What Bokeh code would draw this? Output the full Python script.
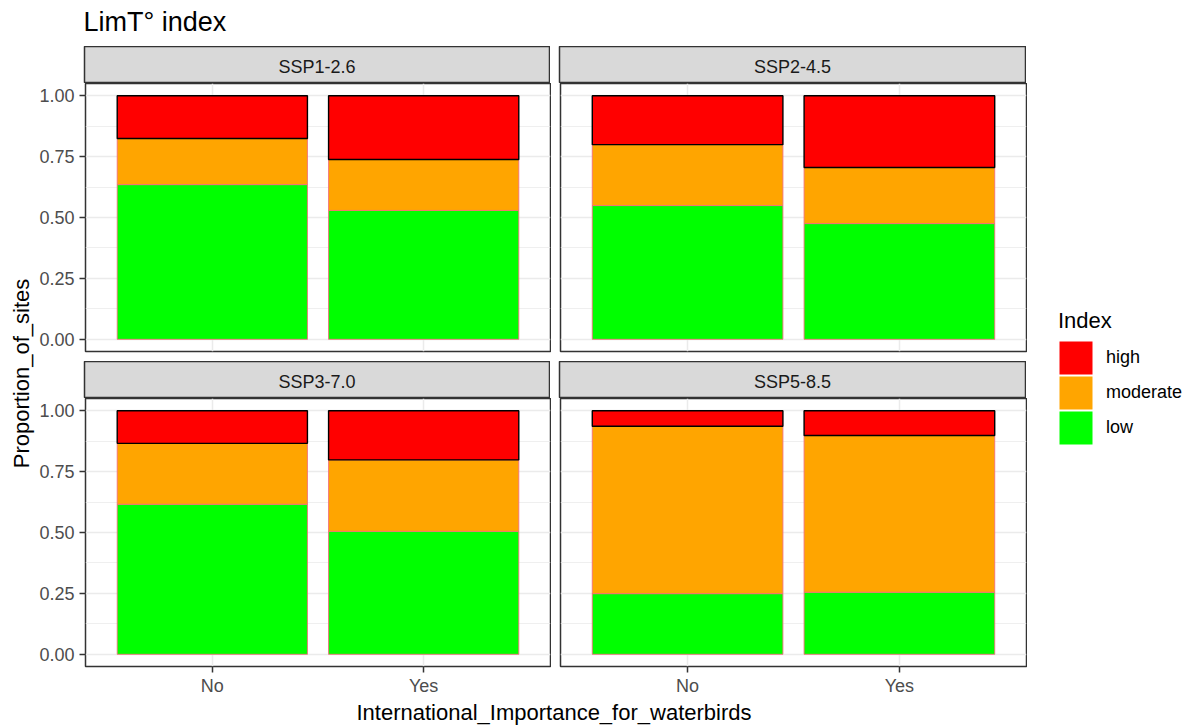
import math
from bokeh.plotting import figure
from bokeh.models import (ColumnDataSource, FactorRange, Range1d, FixedTicker,
                          Legend, LegendItem, NumeralTickFormatter)
from bokeh.layouts import row, column
from bokeh.embed import file_html
from bokeh.resources import INLINE
from bokeh.core.properties import value

# ---------------- data ----------------
chart_title = "LimT° index"
x_title = "International_Importance_for_waterbirds"
y_title = "Proportion_of_sites"
legend_title = "Index"

scenarios = ["SSP1-2.6", "SSP2-4.5", "SSP3-7.0", "SSP5-8.5"]
categories = ["No", "Yes"]
stack_levels = ["low", "moderate", "high"]      # bottom -> top
legend_levels = ["high", "moderate", "low"]     # legend order

# proportions per scenario (same order as `scenarios`)
low_no = [0.635, 0.549, 0.616, 0.249]
moderate_no = [0.189, 0.250, 0.250, 0.687]
high_no = [0.176, 0.201, 0.134, 0.064]
low_yes = [0.529, 0.475, 0.505, 0.255]
moderate_yes = [0.209, 0.230, 0.293, 0.643]
high_yes = [0.262, 0.295, 0.202, 0.102]

y_ticks = [0.0, 0.25, 0.5, 0.75, 1.0]
y_minor = [0.125, 0.375, 0.625, 0.875]

fill_colors = {"high": "#ff0000", "moderate": "#ffa500", "low": "#00ff00"}
line_colors = {"high": "#000000", "moderate": "#f0707a", "low": "#f0707a"}
line_widths = {"high": 1.4, "moderate": 0.9, "low": 0.9}

# ---------------- style ----------------
FONT = value("Liberation Sans")
FONT_NAME = "Liberation Sans"
FW = [465, 466]
FH = 268
SH = 37
LEFT_B = [48, 9]
BORDER = "#333333"
GRID = "#ebebeb"
TOTAL_H = 726


def deco_fig(w, h):
    f = figure(width=w, height=h, x_range=Range1d(0, w), y_range=Range1d(0, h),
               x_axis_location=None, y_axis_location=None,
               min_border=0, min_border_left=0, min_border_right=0,
               min_border_top=0, min_border_bottom=0,
               output_backend="svg", toolbar_location=None, tools="")
    f.grid.visible = False
    f.outline_line_color = None
    return f


def strip_fig(name, col):
    s = figure(frame_width=FW[col], frame_height=SH,
               x_range=Range1d(0, 1), y_range=Range1d(0, 1),
               x_axis_location=None, y_axis_location=None,
               min_border_left=LEFT_B[col], min_border_right=1,
               min_border_top=0, min_border_bottom=0,
               output_backend="svg", toolbar_location=None, tools="")
    s.grid.visible = False
    s.background_fill_color = "#d9d9d9"
    s.outline_line_color = BORDER
    s.outline_line_width = 1.5
    s.text(x=[0.5], y=[0.45], text=[name], text_align="center",
           text_baseline="middle", text_font=FONT, text_font_size="18px",
           text_color="#1a1a1a")
    return s


def panel_fig(i, col, bottom):
    src = ColumnDataSource(dict(
        cat=categories,
        low=[low_no[i], low_yes[i]],
        moderate=[moderate_no[i], moderate_yes[i]],
        high=[high_no[i], high_yes[i]],
    ))
    p = figure(x_range=FactorRange(factors=categories, range_padding=0.1,
                                   range_padding_units="absolute"),
               y_range=Range1d(-0.05, 1.05),
               frame_width=FW[col], frame_height=FH,
               min_border_left=LEFT_B[col], min_border_right=1,
               min_border_top=0, min_border_bottom=30 if bottom else 10,
               x_axis_location="below" if bottom else None,
               y_axis_location="left" if col == 0 else None,
               output_backend="svg", toolbar_location=None, tools="")
    p.vbar_stack(stack_levels, x="cat", width=0.9, source=src,
                 fill_color=[fill_colors[l] for l in stack_levels],
                 line_color=[line_colors[l] for l in stack_levels],
                 line_width=[line_widths[l] for l in stack_levels])
    p.outline_line_color = BORDER
    p.outline_line_width = 1.5
    p.background_fill_color = "white"

    p.ygrid.ticker = FixedTicker(ticks=y_ticks, minor_ticks=y_minor)
    p.ygrid.grid_line_color = GRID
    p.ygrid.grid_line_width = 1.5
    p.ygrid.minor_grid_line_color = GRID
    p.ygrid.minor_grid_line_width = 0.8
    p.xgrid.grid_line_color = GRID
    p.xgrid.grid_line_width = 1.5

    for ax in list(p.yaxis) + list(p.xaxis):
        ax.axis_line_color = None
        ax.major_tick_line_color = BORDER
        ax.major_tick_line_width = 1.5
        ax.major_tick_out = 6
        ax.major_tick_in = 0
        ax.minor_tick_line_color = None
        ax.major_label_text_font = FONT_NAME
        ax.major_label_text_font_size = "18px"
        ax.major_label_text_color = "#4d4d4d"
    if col == 0:
        p.yaxis.ticker = FixedTicker(ticks=y_ticks, minor_ticks=y_minor)
        p.yaxis.formatter = NumeralTickFormatter(format="0.00")
        p.yaxis.major_label_standoff = 5
    if bottom:
        p.xaxis.major_label_standoff = 3
    return p


cells = []
for i, name in enumerate(scenarios):
    col = i % 2
    bottom = i >= 2
    cells.append((strip_fig(name, col), panel_fig(i, col, bottom)))

# title
title_fig = deco_fig(990, 46)
title_fig.text(x=[47], y=[25], text=[chart_title], text_align="left",
               text_baseline="middle", text_font=FONT,
               text_font_size="27px", text_color="#000000")

# x title
xtitle_fig = deco_fig(990, 30)
xtitle_fig.text(x=[517.5], y=[16], text=[x_title], text_align="center",
                text_baseline="middle", text_font=FONT,
                text_font_size="22px", text_color="#000000")

# y title
ytitle_fig = deco_fig(36, TOTAL_H)
ytitle_fig.text(x=[21], y=[TOTAL_H - 373], text=[y_title], angle=math.pi / 2,
                text_align="center", text_baseline="middle", text_font=FONT,
                text_font_size="22px", text_color="#000000")

# legend
legend_fig = deco_fig(164, TOTAL_H)
nan = float("nan")
items = []
for lvl in legend_levels:
    r = legend_fig.quad(left=[nan], right=[nan], top=[nan], bottom=[nan],
                        fill_color=fill_colors[lvl], line_color=fill_colors[lvl],
                        line_width=5, line_join="miter")
    items.append(LegendItem(label=lvl, renderers=[r]))
legend = Legend(items=items, location=(31, 281), title=legend_title,
                title_text_font=FONT_NAME, title_text_font_size="22px",
                title_text_font_style="normal", title_text_color="#000000",
                title_standoff=6,
                label_text_font=FONT_NAME, label_text_font_size="18px",
                label_text_color="#000000",
                glyph_width=35, glyph_height=35, spacing=0, label_standoff=13,
                padding=0, margin=0, border_line_color=None,
                background_fill_alpha=0)
legend_fig.add_layout(legend)

middle = column(
    title_fig,
    row(cells[0][0], cells[1][0]),
    row(cells[0][1], cells[1][1]),
    row(cells[2][0], cells[3][0]),
    row(cells[2][1], cells[3][1]),
    xtitle_fig,
)
root = row(ytitle_fig, middle, legend_fig)

open("out.html", "w").write(file_html(root, INLINE))
